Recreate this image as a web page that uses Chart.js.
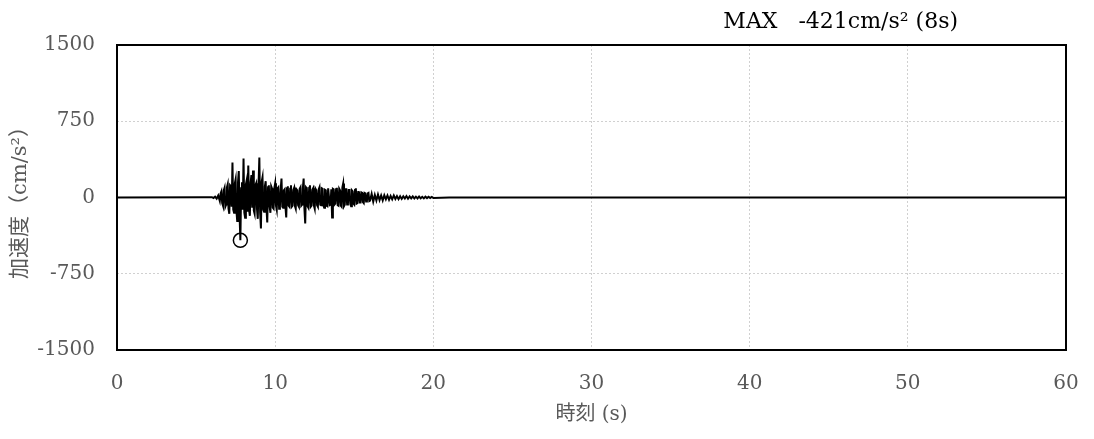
<!DOCTYPE html>
<html>
<head>
<meta charset="utf-8">
<script src="https://cdn.jsdelivr.net/npm/chart.js@4.4.1/dist/chart.umd.min.js"></script>
<style>
  html, body { margin: 0; padding: 0; background: #fff; }
  #wrap { position: relative; width: 1094px; height: 439px; }
</style>
</head>
<body>
<div id="wrap"><canvas id="accelChart"></canvas></div>
<script>
// time (s) and acceleration (cm/s^2)
const timeS = [
  0, 5.5, 6.0, 6.1, 6.2, 6.3, 6.4,
  6.50, 6.55, 6.60, 6.65, 6.70, 6.75, 6.80, 6.85, 6.90, 6.95,
  7.00, 7.05, 7.10, 7.15, 7.20, 7.25, 7.30, 7.35, 7.40, 7.45,
  7.50, 7.55, 7.60, 7.65, 7.70, 7.75, 7.80, 7.85, 7.90, 7.95,
  8.00, 8.05, 8.10, 8.15, 8.20, 8.25, 8.30, 8.35, 8.40, 8.45,
  8.50, 8.55, 8.60, 8.65, 8.70, 8.75, 8.80, 8.85, 8.90, 8.95,
  9.00, 9.05, 9.10, 9.15, 9.20, 9.25, 9.30, 9.35, 9.40, 9.45,
  9.50, 9.55, 9.60, 9.65, 9.70, 9.75, 9.80, 9.85, 9.90, 9.95,
  10.00, 10.05, 10.10, 10.15, 10.20, 10.25, 10.30, 10.35, 10.40, 10.45,
  10.50, 10.55, 10.60, 10.65, 10.70, 10.75, 10.80, 10.85, 10.90, 10.95,
  11.00, 11.05, 11.10, 11.15, 11.20, 11.25, 11.30, 11.35, 11.40, 11.45,
  11.50, 11.55, 11.60, 11.65, 11.70, 11.75, 11.80, 11.85, 11.90, 11.95,
  12.00, 12.05, 12.10, 12.15, 12.20, 12.25, 12.30, 12.35, 12.40, 12.45,
  12.50, 12.55, 12.60, 12.65, 12.70, 12.75, 12.80, 12.85, 12.90, 12.95,
  13.00, 13.05, 13.10, 13.15, 13.20, 13.25, 13.30, 13.35, 13.40, 13.45,
  13.50, 13.55, 13.60, 13.65, 13.70, 13.75, 13.80, 13.85, 13.90, 13.95,
  14.00, 14.05, 14.10, 14.15, 14.20, 14.25, 14.30, 14.35, 14.40, 14.45,
  14.50, 14.55, 14.60, 14.65, 14.70, 14.75, 14.80, 14.85, 14.90, 14.95,
  15.00, 15.05, 15.10, 15.15, 15.20, 15.25, 15.30, 15.35, 15.40, 15.45,
  15.50, 15.55, 15.60, 15.65, 15.70, 15.75, 15.80, 15.85, 15.90, 15.95,
  16.0, 16.1, 16.2, 16.3, 16.4, 16.5, 16.6, 16.7, 16.8, 16.9,
  17.0, 17.1, 17.2, 17.3, 17.4, 17.5, 17.6, 17.7, 17.8, 17.9,
  18.0, 18.1, 18.2, 18.3, 18.4, 18.5, 18.6, 18.7, 18.8, 18.9,
  19.0, 19.1, 19.2, 19.3, 19.4, 19.5, 19.6, 19.7, 19.8, 19.9,
  20.0, 21.0, 22.0, 60.0
];
const accelCm = [
  0, 2, 3, -5, 8, -12, 20,
  -35, 40, 60, -55, -80, 70, 95, -90, -70, 100,
  130, -110, -160, 120, 110, -90, 344, -120, -150, 140,
  180, -130, -230, 150, 260, -180, -421, 90, 150, -120,
  383, -150, -200, 130, 170, -140, 315, -120, -180, 150,
  220, -100, 265, -130, -160, 120, 140, -110, -210, 130,
  393, -150, -305, 160, 200, -120, -140, 110, 160, -100,
  -245, 100, 120, -90, -150, 110, 90, -100, -110, 95,
  140, -80, -120, 90, 100, -110, -90, 80, 187, -90,
  -100, 70, 80, -90, -196, 90, 110, -80, -90, 85,
  120, -90, -80, 75, 95, -85, -110, 80, 70, -75,
  -90, 85, 100, -80, -70, 90, 187, -110, -255, 100,
  90, -85, -100, 95, 120, -90, -80, 75, 90, -80,
  -110, 85, 70, -75, -90, 80, 100, -70, -75, 90,
  85, -80, -100, 75, 70, -80, -85, 90, 90, -75,
  -70, 80, -196, 85, 80, -70, -60, 80, 95, -75,
  -80, 85, 70, -80, -90, 100, 138, -85, -70, 80,
  80, -70, -60, 75, 75, -65, -85, 70, 60, -60,
  -70, 75, 90, -60, -55, 55, 60, -50, -50, 50,
  45, -45, -55, 45, 40, -40, -35, 40, 45, -35,
  -30, 35, -40, 25, -30, 30, -25, 20, -28, 22,
  -18, 20, -22, 15, -18, 20, -15, 14, -16, 12,
  -14, 12, -10, 14, -12, 10, -9, 11, -10, 8,
  -9, 10, -8, 7, -9, 8, -6, 7, -6, 5,
  -4, 1, 0, 0
];
// peak marker
const peakTime = [7.8];
const peakAccel = [-421];

const xTicks = [0, 10, 20, 30, 40, 50, 60];
const yTicks = [-1500, -750, 0, 750, 1500];

const titleText = 'MAX   -421cm/s\u00B2 (8s)';
const serif = '"DejaVu Serif", "Noto Sans CJK JP", serif';

const framePlugin = {
  id: 'frame',
  afterDatasetsDraw(chart) {
    const { ctx, chartArea: a } = chart;
    ctx.save();
    ctx.strokeStyle = '#000';
    ctx.lineWidth = 2;
    ctx.strokeRect(a.left, a.top, a.right - a.left, a.bottom - a.top);
    ctx.restore();
  },
  afterDraw(chart) {
    const { ctx, chartArea: a } = chart;
    ctx.save();
    ctx.fillStyle = '#000';
    ctx.font = '22px ' + serif;
    ctx.textAlign = 'right';
    ctx.textBaseline = 'middle';
    ctx.fillText(titleText, a.right - 108, 22);
    ctx.restore();
  }
};

new Chart(document.getElementById('accelChart'), {
  type: 'scatter',
  data: {
    datasets: [
      {
        label: 'accel',
        data: timeS.map((t, i) => ({ x: t, y: accelCm[i] })),
        showLine: true,
        borderColor: '#000',
        borderWidth: 2,
        pointRadius: 0,
        tension: 0
      },
      {
        label: 'peak',
        data: peakTime.map((t, i) => ({ x: t, y: peakAccel[i] })),
        showLine: false,
        pointStyle: 'circle',
        pointRadius: 7,
        backgroundColor: 'rgba(0,0,0,0)',
        borderColor: '#000',
        borderWidth: 1.5
      }
    ]
  },
  options: {
    responsive: true, maintainAspectRatio: false, animation: false,
    layout: { padding: { top: 45, right: 28, left: 8, bottom: 12 } },
    plugins: { legend: { display: false }, tooltip: { enabled: false } },
    scales: {
      x: {
        type: 'linear', min: 0, max: 60,
        afterBuildTicks: s => { s.ticks = xTicks.map(v => ({ value: v })); },
        afterFit: s => { s.height = 77; s.paddingLeft = 0; s.paddingRight = 0; },
        ticks: { color: '#595959', padding: 22, maxRotation: 0, font: { family: serif, size: 20 }, callback: v => String(v) },
        grid: {
          drawTicks: false,
          color: c => (c.tick && c.tick.value > 0 && c.tick.value < 60) ? '#d0d0d0' : 'rgba(0,0,0,0)',
          lineWidth: 1
        },
        border: { display: false, dash: [2, 2] },
        title: { display: true, text: '時刻 (s)', color: '#595959', padding: 0, font: { family: serif, size: 20 } }
      },
      y: {
        type: 'linear', min: -1500, max: 1500,
        afterBuildTicks: s => { s.ticks = yTicks.map(v => ({ value: v })); },
        afterFit: s => { s.width = 109; },
        ticks: { color: '#595959', padding: 22, font: { family: serif, size: 20 }, callback: v => String(v) },
        grid: {
          drawTicks: false,
          color: c => (c.tick && Math.abs(c.tick.value) === 750) ? '#d0d0d0' : 'rgba(0,0,0,0)',
          lineWidth: 1
        },
        border: { display: false, dash: [2, 2] },
        title: { display: true, text: '加速度（cm/s²）', color: '#595959', padding: 0, font: { family: serif, size: 21 } }
      }
    }
  },
  plugins: [framePlugin]
});
</script>
</body>
</html>
